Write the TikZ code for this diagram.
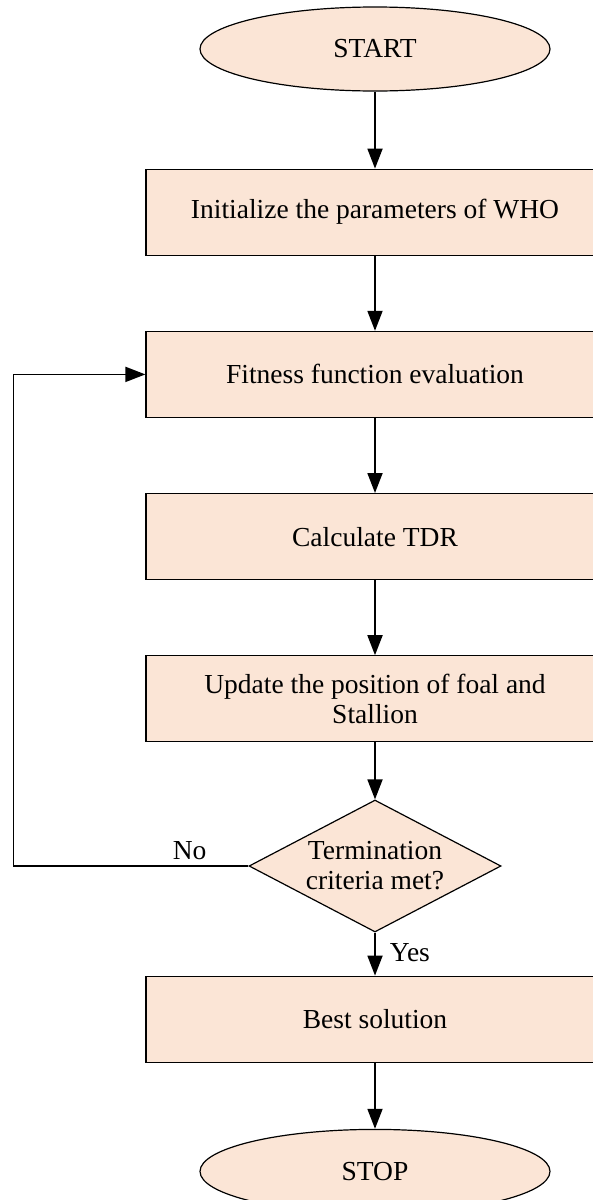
\documentclass[tikz,border=0pt]{standalone}
\usepackage{fontspec}
\setmainfont{Liberation Serif}
\usepackage{tikz}
\usetikzlibrary{shapes.geometric, arrows.meta, positioning}
\definecolor{flowpeach}{RGB}{251,229,214}
\tikzset{
  terminal/.style={
    ellipse, minimum width=350pt, minimum height=84pt,
    draw=black, line width=1.2pt, fill=flowpeach, text centered,
    font=\fontsize{27.5}{30}\selectfont
  },
  process/.style={
    rectangle, minimum width=458pt, minimum height=86pt,
    draw=black, line width=1.2pt, fill=flowpeach, align=center,
    font=\fontsize{27.5}{30}\selectfont
  },
  decision/.style={
    diamond, aspect=1.9, inner sep=0pt, minimum width=252pt, minimum height=132pt,
    draw=black, line width=1.2pt, fill=flowpeach, align=center,
    font=\fontsize{27.5}{30}\selectfont
  },
  arrow/.style={-{Triangle[length=20pt,width=15pt]}, line width=1.8pt},
  flowlabel/.style={font=\fontsize{27.5}{30}\selectfont, inner sep=2pt}
}
\begin{document}
\begin{tikzpicture}[x=1pt, y=1pt, node distance=75pt]
  \useasboundingbox (0,0) rectangle (593,-1200);

  \node[terminal] (start) at (375,-49) {START};
  \node[process, below=77pt of start] (init) {Initialize the parameters of WHO};
  \node[process, below=of init] (fit)  {Fitness function evaluation};
  \node[process, below=of fit]  (tdr)  {Calculate TDR};
  \node[process, below=of tdr]  (upd)  {Update the position of foal and\\Stallion};
  \node[decision, below=57pt of upd]  (term) {Termination\\criteria met?};
  \node[process, below=43pt of term]  (best) {Best solution};
  \node[terminal, below=66pt of best] (stop) {STOP};

  \draw[arrow] (start) -- (init);
  \draw[arrow] (init) -- (fit);
  \draw[arrow] (fit)  -- (tdr);
  \draw[arrow] (tdr)  -- (upd);
  \draw[arrow] (upd)  -- (term);
  \draw[arrow] (term) -- node[flowlabel, right=12pt, pos=0.47] (yes) {Yes} (best);
  \draw[arrow] (best) -- (stop);

  % loop back when not terminated
  \draw[arrow] (term.west) -- ++(-235,0) node[flowlabel, above=3pt, pos=0.25] (no) {No}
    |- (fit.west);
\end{tikzpicture}
\end{document}
